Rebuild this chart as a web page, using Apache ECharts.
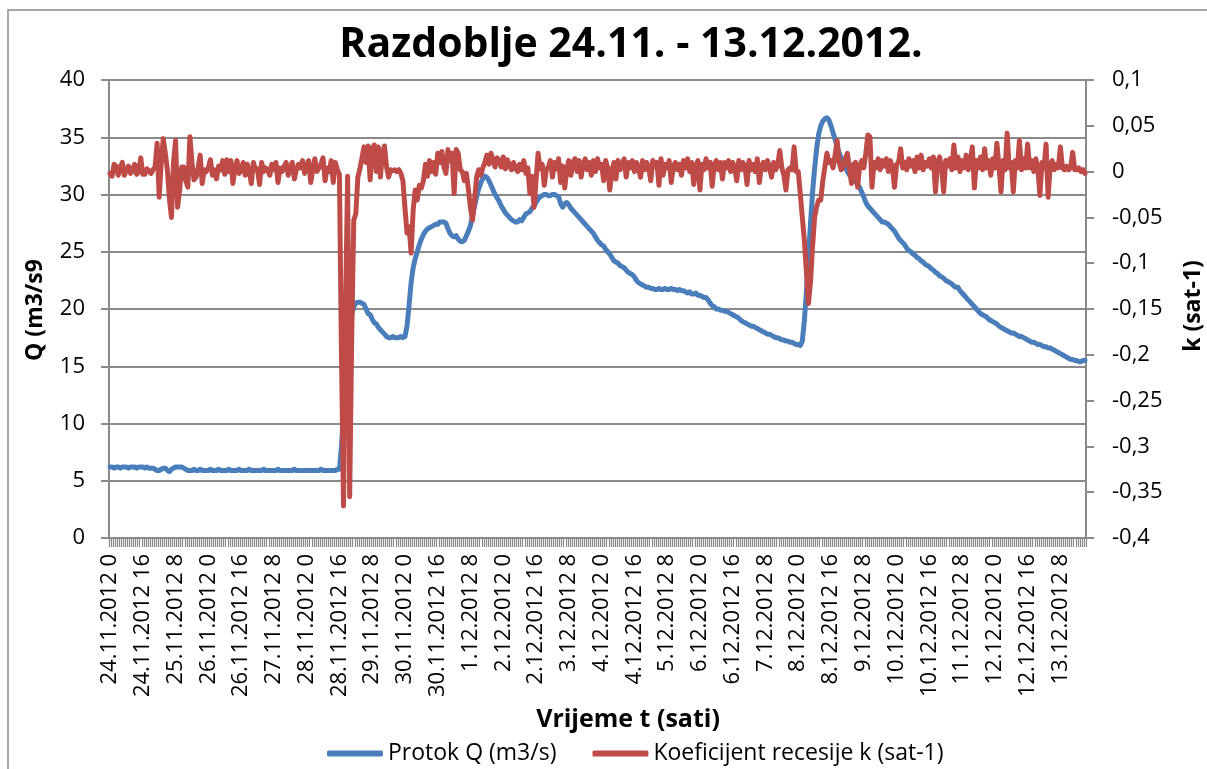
<!DOCTYPE html>
<html>
<head>
<meta charset="utf-8">
<script src="https://cdn.jsdelivr.net/npm/echarts@6/dist/echarts.min.js"></script>
<style>
  html, body { margin: 0; padding: 0; background: #ffffff; }
  #chart { width: 1207px; height: 769px; }
</style>
</head>
<body>
<div id="chart"></div>
<script>
// Hourly record, 24.11.2012 00h .. 13.12.2012 20h (477 hours)
const days = ['24.11.2012','25.11.2012','26.11.2012','27.11.2012','28.11.2012','29.11.2012','30.11.2012',
  '1.12.2012','2.12.2012','3.12.2012','4.12.2012','5.12.2012','6.12.2012','7.12.2012','8.12.2012',
  '9.12.2012','10.12.2012','11.12.2012','12.12.2012','13.12.2012'];
const hourCount = 477;

// Protok Q (m3/s), one value per hour
const protokQ = [
  6.2,6.2,6.1,6.2,6.2,6.1,6.2,6.2,6.2,6.1,6.2,6.2,6.2,6.1,6.2,6.2,
  6.2,6.1,6.2,6.1,6.1,6.1,6.0,5.9,5.9,6.0,6.1,6.1,5.9,5.8,6.0,6.1,
  6.2,6.2,6.2,6.2,6.1,6.0,5.9,5.9,5.9,6.0,5.9,5.9,6.0,5.9,5.9,5.9,
  5.9,6.0,5.9,5.9,5.9,6.0,5.9,5.9,5.9,5.9,6.0,5.9,5.9,5.9,5.9,6.0,
  5.9,5.9,5.9,5.9,6.0,5.9,5.9,5.9,5.9,5.9,5.9,6.0,5.9,5.9,5.9,5.9,
  5.9,5.9,6.0,5.9,5.9,5.9,5.9,5.9,5.9,5.9,6.0,5.9,5.9,5.9,5.9,5.9,
  5.9,5.9,5.9,5.9,5.9,5.9,5.9,6.0,5.9,5.9,5.9,5.9,5.9,5.9,5.9,6.0,
  6.0,8.0,11.0,14.0,16.5,18.3,19.5,20.2,20.5,20.6,20.6,20.5,20.4,20.0,19.6,19.5,
  19.1,18.8,18.7,18.4,18.2,18.0,17.8,17.6,17.5,17.5,17.6,17.5,17.5,17.5,17.6,17.5,
  17.6,18.5,20.3,22.3,23.6,24.4,25.0,25.6,26.1,26.5,26.8,27.0,27.1,27.2,27.3,27.4,
  27.4,27.6,27.6,27.6,27.5,27.0,26.6,26.4,26.3,26.4,26.1,25.9,25.9,26.0,26.4,26.8,
  27.3,28.2,29.0,29.8,30.5,31.0,31.4,31.6,31.5,31.2,30.8,30.4,30.0,29.7,29.4,29.0,
  28.7,28.4,28.2,28.0,27.8,27.7,27.6,27.6,27.8,27.7,28.0,28.3,28.4,28.5,28.8,29.0,
  29.3,29.6,29.8,29.9,30.0,30.0,29.9,29.9,30.0,30.0,29.9,29.8,29.2,28.9,29.2,29.3,
  29.1,28.8,28.6,28.4,28.2,28.0,27.8,27.6,27.4,27.2,27.0,26.8,26.6,26.3,26.0,25.8,
  25.6,25.5,25.2,25.0,24.8,24.5,24.2,24.1,24.0,23.8,23.7,23.6,23.4,23.2,23.1,23.0,
  22.8,22.5,22.3,22.2,22.1,22.0,21.9,21.9,21.8,21.8,21.7,21.7,21.8,21.7,21.7,21.8,
  21.7,21.7,21.8,21.7,21.7,21.6,21.7,21.6,21.6,21.5,21.4,21.5,21.3,21.3,21.4,21.2,
  21.2,21.1,21.0,21.0,20.8,20.5,20.3,20.2,20.0,20.0,19.9,19.9,19.8,19.8,19.7,19.6,
  19.5,19.4,19.3,19.2,19.0,18.9,18.8,18.7,18.6,18.5,18.5,18.4,18.3,18.2,18.1,18.0,
  17.9,17.8,17.8,17.7,17.6,17.5,17.5,17.4,17.3,17.3,17.2,17.2,17.1,17.1,17.0,16.9,
  16.9,16.8,17.2,19.0,21.5,24.5,27.5,30.2,32.3,34.0,35.3,36.0,36.4,36.6,36.7,36.5,
  36.0,35.4,34.8,34.2,33.6,33.2,32.8,32.4,32.0,31.7,31.5,31.3,31.1,30.9,30.6,30.2,
  29.8,29.3,29.0,28.8,28.6,28.4,28.2,28.0,27.8,27.6,27.6,27.5,27.4,27.2,27.0,26.8,
  26.5,26.2,26.0,25.8,25.6,25.3,25.1,25.0,24.8,24.7,24.5,24.4,24.2,24.1,23.9,23.8,
  23.7,23.5,23.4,23.2,23.1,22.9,22.8,22.7,22.5,22.4,22.3,22.2,22.0,21.9,21.9,21.6,
  21.4,21.2,21.0,20.8,20.6,20.4,20.2,20.0,19.8,19.6,19.5,19.4,19.3,19.1,19.0,18.9,
  18.8,18.7,18.5,18.4,18.3,18.2,18.1,18.0,17.9,17.9,17.8,17.7,17.6,17.6,17.5,17.4,
  17.3,17.2,17.1,17.1,17.0,16.9,16.9,16.8,16.7,16.7,16.6,16.6,16.5,16.4,16.3,16.2,
  16.1,16.0,15.9,15.8,15.7,15.6,15.6,15.5,15.5,15.4,15.4,15.5,15.5
];

// Koeficijent recesije k (sat-1), one value per hour
const koefK = [
  -0.002,-0.005,0.008,0.006,-0.004,0.004,0.010,-0.004,0.002,0.006,-0.002,0.002,0.008,-0.003,0.000,0.015,
  -0.003,-0.003,0.003,0.001,-0.002,0.002,0.005,0.031,-0.028,0.010,0.036,0.020,0.002,-0.030,-0.050,0.010,
  0.034,-0.039,-0.020,0.005,0.005,-0.010,-0.017,0.038,0.010,-0.009,-0.006,0.004,0.018,-0.013,0.002,0.000,
  0.004,0.013,-0.004,0.002,-0.008,0.006,0.002,0.012,-0.003,0.013,0.000,0.012,-0.013,0.004,0.012,-0.002,
  0.002,0.010,-0.004,0.008,0.000,-0.013,0.010,0.002,0.003,-0.014,0.010,0.000,0.004,0.002,-0.004,0.008,
  0.002,0.010,-0.012,0.004,0.000,0.006,0.010,-0.004,0.004,0.010,-0.008,0.002,0.008,0.004,0.012,-0.002,
  0.006,0.012,-0.012,0.002,0.014,0.000,0.004,0.008,0.015,-0.010,0.004,0.000,0.012,-0.012,0.010,0.002,
  -0.003,-0.200,-0.365,-0.150,-0.005,-0.355,-0.180,-0.053,-0.046,-0.006,0.003,0.015,0.027,0.010,0.028,-0.009,
  0.025,0.029,0.000,0.027,-0.006,0.020,0.028,0.005,-0.006,0.002,0.001,0.002,0.000,0.002,-0.002,-0.010,
  -0.040,-0.067,-0.060,-0.089,-0.042,-0.020,-0.031,-0.015,-0.018,-0.010,0.008,-0.005,0.012,0.000,0.010,-0.003,
  0.020,0.010,0.022,0.005,-0.002,0.024,0.012,0.020,-0.024,0.024,0.020,0.002,0.000,-0.010,-0.002,-0.020,
  -0.040,-0.053,-0.030,-0.006,0.002,-0.004,0.004,0.010,0.018,0.008,0.020,0.012,0.005,0.015,0.012,0.005,
  0.016,0.003,0.013,0.006,0.002,0.010,0.004,0.000,0.008,0.002,0.012,-0.002,0.004,-0.024,-0.005,-0.039,
  -0.010,0.020,0.003,0.008,-0.015,0.002,0.005,0.012,-0.006,0.010,0.003,0.014,-0.012,0.006,-0.018,0.002,
  0.012,-0.004,0.010,0.014,0.000,0.012,-0.006,0.008,0.014,0.002,0.010,-0.004,0.012,0.000,0.014,0.004,
  0.008,-0.010,0.012,0.004,-0.020,0.000,0.010,-0.008,0.012,0.002,0.008,0.014,-0.006,0.010,0.004,0.012,
  0.000,0.010,0.004,-0.006,0.012,0.002,0.010,0.004,-0.010,0.012,0.006,0.010,-0.015,0.014,-0.004,0.008,
  0.004,0.012,-0.012,0.006,0.010,0.002,0.008,-0.004,0.012,0.004,0.014,0.000,0.010,-0.014,0.006,0.012,
  -0.020,0.008,0.002,0.014,0.004,0.010,-0.016,0.008,0.012,0.002,0.010,-0.008,0.010,0.004,0.012,0.000,
  0.010,0.004,-0.010,0.012,0.002,0.010,0.006,-0.014,0.012,0.002,0.008,0.000,0.014,-0.012,0.006,0.010,
  0.002,0.012,0.004,-0.006,0.010,0.002,0.008,0.023,0.004,-0.004,-0.020,0.002,0.004,0.002,0.027,0.000,
  0.000,-0.024,-0.050,-0.075,-0.110,-0.144,-0.120,-0.082,-0.050,-0.038,-0.031,-0.031,-0.010,0.005,0.020,0.010,
  0.012,0.004,0.018,0.034,0.010,0.002,0.005,0.014,0.020,0.004,-0.013,0.008,0.010,-0.017,0.006,0.012,
  0.004,0.020,0.040,0.038,-0.017,0.010,0.004,0.014,0.002,0.012,0.006,0.014,0.000,0.012,0.004,-0.017,
  0.008,0.010,0.025,0.004,0.010,0.002,0.014,0.006,0.012,0.000,0.016,0.004,0.018,0.002,0.010,0.006,
  0.014,0.004,0.016,-0.022,0.010,0.016,0.004,-0.022,0.012,0.006,0.014,0.002,0.029,0.004,0.016,0.000,
  0.012,0.004,0.018,0.002,0.010,0.027,-0.018,0.012,0.004,0.016,0.002,0.025,0.004,0.012,-0.004,0.014,
  0.004,0.031,0.006,-0.022,0.012,0.002,0.042,0.004,0.010,-0.022,0.012,0.004,0.034,0.002,0.014,0.004,
  0.030,0.004,0.012,0.000,0.014,0.004,-0.026,0.010,0.004,0.030,-0.028,0.006,0.012,0.002,0.008,0.004,
  0.027,0.004,0.002,0.006,0.002,0.004,0.021,0.002,0.002,0.004,0.000,0.002,-0.002
];

const leftTicks = { min: 0, max: 40, interval: 5 };
const rightTicks = { min: -0.4, max: 0.1, interval: 0.05 };

// category names "d.m.yyyy h"
const hours = [];
for (let i = 0; i < hourCount; i++) {
  hours.push(days[Math.floor(i / 24)] + ' ' + (i % 24));
}

const GRAY = '#8a8a8a';
const FONT = '"Open Sans", "Liberation Sans", sans-serif';
const comma = v => String(+v.toFixed(2)).replace('.', ',');

const chart = echarts.init(document.getElementById('chart'), null, { renderer: 'canvas' });
chart.setOption({
  animation: false,
  backgroundColor: '#ffffff',
  textStyle: { fontFamily: FONT, color: '#000' },
  title: {
    text: 'Razdoblje 24.11. - 13.12.2012.',
    left: 626, top: 20, textAlign: 'center',
    textStyle: { fontFamily: FONT, fontWeight: 'bold', fontSize: 41, color: '#000' }
  },
  legend: {
    left: 322, top: 737,
    itemWidth: 56, itemHeight: 6, itemGap: 36,
    icon: 'roundRect',
    textStyle: { fontFamily: FONT, fontSize: 23, color: '#000' },
    data: ['Protok Q (m3/s)', 'Koeficijent recesije k (sat-1)']
  },
  grid: { left: 109, right: 121, top: 80, bottom: 231, containLabel: false },
  xAxis: {
    type: 'category',
    data: hours,
    boundaryGap: true,
    axisLine: { lineStyle: { color: GRAY, width: 2 } },
    axisTick: { show: true, interval: 0, length: 9, lineStyle: { color: GRAY, width: 1.2 } },
    axisLabel: { interval: 15, rotate: 90, margin: 16, fontSize: 22, color: '#000', fontFamily: FONT },
    splitLine: { show: false }
  },
  yAxis: [
    {
      type: 'value', position: 'left',
      min: leftTicks.min, max: leftTicks.max, interval: leftTicks.interval,
      axisLine: { show: true, lineStyle: { color: GRAY, width: 2 } },
      axisTick: { show: true, length: 8, lineStyle: { color: GRAY, width: 2 } },
      axisLabel: { margin: 24, fontSize: 22, color: '#000', fontFamily: FONT },
      splitLine: { show: true, lineStyle: { color: GRAY, width: 2 } }
    },
    {
      type: 'value', position: 'right',
      min: rightTicks.min, max: rightTicks.max, interval: rightTicks.interval,
      axisLine: { show: true, lineStyle: { color: GRAY, width: 2 } },
      axisTick: { show: true, length: 8, lineStyle: { color: GRAY, width: 2 } },
      axisLabel: { margin: 26, fontSize: 22, color: '#000', fontFamily: FONT, formatter: comma },
      splitLine: { show: false }
    }
  ],
  series: [
    {
      name: 'Protok Q (m3/s)', type: 'line', yAxisIndex: 0,
      data: protokQ, showSymbol: false, symbol: 'none',
      lineStyle: { color: '#4A7EBB', width: 5, cap: 'round', join: 'round' },
      itemStyle: { color: '#4A7EBB' }, z: 2
    },
    {
      name: 'Koeficijent recesije k (sat-1)', type: 'line', yAxisIndex: 1,
      data: koefK, showSymbol: false, symbol: 'none',
      lineStyle: { color: '#BE4B48', width: 5, cap: 'round', join: 'round' },
      itemStyle: { color: '#BE4B48' }, z: 3
    }
  ],
  graphic: [
    { type: 'rect', shape: { x: 8, y: 10, width: 1260, height: 820 },
      style: { fill: 'none', stroke: GRAY, lineWidth: 1.5 }, silent: true },
    { type: 'text', x: 35, y: 310, rotation: Math.PI / 2,
      style: { text: 'Q (m3/s9', font: 'bold 23px ' + FONT, fill: '#000', align: 'center', verticalAlign: 'middle' } },
    { type: 'text', x: 1193, y: 306, rotation: Math.PI / 2,
      style: { text: 'k (sat-1)', font: 'bold 23px ' + FONT, fill: '#000', align: 'center', verticalAlign: 'middle' } },
    { type: 'text', x: 628, y: 720,
      style: { text: 'Vrijeme t (sati)', font: 'bold 25px ' + FONT, fill: '#000', align: 'center', verticalAlign: 'middle' } }
  ]
});
</script>
</body>
</html>
